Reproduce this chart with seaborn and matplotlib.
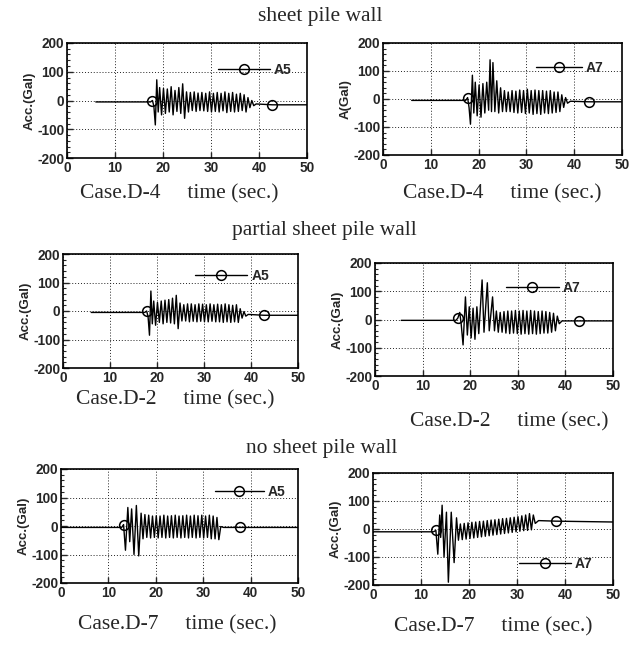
import matplotlib
matplotlib.use("Agg")
import matplotlib.pyplot as plt
import seaborn as sns
from matplotlib.lines import Line2D
from matplotlib.ticker import MultipleLocator

# ---- data (turning points of each record) ----
# sheet pile wall, Case.D-4, A5
t_d4_a5 = [6.0, 17.4, 17.8, 18.1, 18.4, 18.7, 19.0, 19.3, 19.7, 20.1, 20.5, 20.9, 21.3, 21.7, 22.1,
           22.5, 22.9, 23.3, 23.7, 24.1, 24.5, 24.9, 25.3, 25.7, 26.1, 26.5, 26.9, 27.3, 27.7, 28.1,
           28.5, 28.9, 29.3, 29.7, 30.1, 30.5, 30.9, 31.3, 31.7, 32.1, 32.5, 32.9, 33.3, 33.7, 34.1,
           34.5, 34.9, 35.3, 35.7, 36.1, 36.5, 36.9, 37.3, 37.7, 38.1, 38.5, 38.9, 39.4, 42.8, 50.0]
a_d4_a5 = [-5, -5, 0, -20, -85, 72, -40, 45, -50, 42, -45, 40, -40, 48, -50,
           35, -38, 45, -45, 58, -62, 30, -40, 28, -35, 30, -38, 26, -35, 28,
           -36, 25, -38, 30, -40, 25, -38, 28, -40, 25, -36, 30, -42, 25, -38,
           28, -40, 22, -38, 25, -35, 20, -40, 10, -25, 0, -18, -12, -15, -15]
mark_d4_a5 = [17.8, 42.8]

# sheet pile wall, Case.D-4, A7
t_d4_a7 = [6.0, 17.3, 17.7, 18.0, 18.3, 18.7, 19.0, 19.3, 19.7, 20.1, 20.5, 20.9, 21.3, 21.7, 22.1,
           22.4, 22.7, 23.0, 23.4, 23.8, 24.2, 24.6, 25.0, 25.4, 25.8, 26.2, 26.6, 27.0, 27.4, 27.8,
           28.2, 28.6, 29.0, 29.4, 29.8, 30.2, 30.6, 31.0, 31.4, 31.8, 32.2, 32.6, 33.0, 33.4, 33.8,
           34.2, 34.6, 35.0, 35.4, 35.8, 36.2, 36.6, 37.0, 37.4, 37.8, 38.2, 38.6, 39.2, 43.0, 50.0]
a_d4_a7 = [-5, -5, 5, -30, -90, 85, -50, 60, -60, 50, -65, 55, -50, 60, -40,
           140, -45, 130, -45, 65, -50, 40, -45, 30, -45, 25, -45, 30, -48, 28,
           -50, 32, -48, 30, -52, 35, -50, 30, -55, 32, -52, 30, -55, 30, -50,
           28, -52, 30, -50, 25, -48, 25, -45, 15, -30, 5, -15, -8, -10, -10]
mark_d4_a7 = [17.7, 43.0]

# partial sheet pile wall, Case.D-2, A5
t_d2_a5 = [6.0, 17.4, 17.8, 18.1, 18.4, 18.7, 19.0, 19.3, 19.7, 20.1, 20.5, 20.9, 21.3, 21.7, 22.1,
           22.5, 22.9, 23.3, 23.7, 24.1, 24.5, 24.9, 25.3, 25.7, 26.1, 26.5, 26.9, 27.3, 27.7, 28.1,
           28.5, 28.9, 29.3, 29.7, 30.1, 30.5, 30.9, 31.3, 31.7, 32.1, 32.5, 32.9, 33.3, 33.7, 34.1,
           34.5, 34.9, 35.3, 35.7, 36.1, 36.5, 36.9, 37.3, 37.7, 38.1, 38.5, 38.9, 39.4, 42.8, 50.0]
a_d2_a5 = [-5, -5, 0, -20, -85, 70, -45, 35, -50, 30, -40, 35, -45, 38, -40,
           40, -42, 45, -45, 55, -62, 28, -35, 22, -35, 25, -38, 25, -36, 22,
           -38, 25, -36, 24, -38, 22, -38, 25, -36, 22, -38, 24, -38, 22, -40,
           25, -38, 22, -40, 20, -38, 22, -40, 8, -25, -2, -18, -12, -15, -15]
mark_d2_a5 = [17.8, 42.8]

# partial sheet pile wall, Case.D-2, A7
t_d2_a7 = [5.5, 17.0, 17.4, 17.8, 18.1, 18.5, 19.0, 19.4, 19.8, 20.2, 20.6, 21.0, 21.4, 21.8, 22.5,
           22.9, 23.6, 24.0, 24.7, 25.1, 25.5, 25.9, 26.3, 26.7, 27.1, 27.5, 27.9, 28.3, 28.7, 29.1,
           29.5, 29.9, 30.3, 30.7, 31.1, 31.5, 31.9, 32.3, 32.7, 33.1, 33.5, 33.9, 34.3, 34.7, 35.1,
           35.5, 35.9, 36.3, 36.7, 37.1, 37.5, 37.9, 38.3, 38.7, 39.3, 42.8, 50.0]
a_d2_a7 = [-3, -3, 5, 25, -15, -90, 80, -55, 45, -65, 40, -70, 45, -50, 140,
           -45, 130, -40, 80, -40, 30, -45, 25, -45, 28, -48, 30, -50, 30, -48,
           32, -50, 30, -52, 32, -50, 30, -52, 32, -50, 30, -52, 28, -50, 30,
           -48, 28, -48, 25, -45, 22, -40, 12, -15, -5, -5, -5]
mark_d2_a7 = [17.4, 42.8]

# no sheet pile wall, Case.D-7, A5
t_d7_a5 = [0.0, 12.8, 13.2, 13.6, 14.1, 14.5, 14.9, 15.4, 15.9, 16.4, 16.9, 17.3,
           17.7, 18.1, 18.5, 18.9, 19.3, 19.7, 20.1, 20.5, 20.9, 21.3, 21.7, 22.1, 22.5, 22.9,
           23.3, 23.7, 24.1, 24.5, 24.9, 25.3, 25.7, 26.1, 26.5, 26.9, 27.3, 27.7, 28.1, 28.5,
           28.9, 29.3, 29.7, 30.1, 30.5, 30.9, 31.3, 31.7, 32.1, 32.5, 32.9, 33.3,
           33.7, 34.3, 37.8, 50.0]
a_d7_a5 = [-5, -5, 5, -85, 65, -55, 60, -100, 72, -105, 45, -45,
           40, -40, 38, -42, 35, -40, 36, -42, 35, -40, 38, -42, 35, -40,
           36, -42, 38, -40, 35, -42, 36, -40, 38, -42, 35, -40, 38, -42,
           36, -40, 38, -42, 35, -40, 38, -45, 35, -45, 30, -48,
           -2, -5, -5, -5]
mark_d7_a5 = [13.2, 37.8]

# no sheet pile wall, Case.D-7, A7
t_d7_a7 = [0.0, 12.6, 13.1, 13.5, 13.9, 14.1, 14.4, 14.8, 15.3, 15.7, 16.3, 16.9, 17.4, 17.8,
           18.2, 18.6, 19.0, 19.4, 19.8, 20.2, 20.6, 21.0, 21.4, 21.8, 22.2, 22.6, 23.0,
           23.4, 23.8, 24.2, 24.6, 25.0, 25.4, 25.8, 26.2, 26.6, 27.0, 27.4, 27.8, 28.2,
           28.6, 29.0, 29.4, 29.8, 30.2, 30.6, 31.0, 31.4, 31.8, 32.2, 32.6, 33.0, 33.4,
           33.8, 34.5, 38.1, 50.0]
a_d7_a7 = [-10, -10, -5, -90, 50, -30, 85, -100, 60, -190, 60, -120, 40, -40,
           18, -38, 20, -36, 22, -34, 24, -32, 25, -30, 27, -28, 28,
           -26, 30, -24, 32, -22, 33, -20, 35, -18, 37, -16, 38, -14,
           40, -12, 42, -10, 44, -8, 47, -6, 50, -5, 55, -3, 50,
           20, 30, 28, 25]
mark_d7_a7 = [13.1, 38.1]

gauges = ["A5", "A7", "A5", "A7", "A5", "A7"]
cases = ["Case.D-4", "Case.D-4", "Case.D-2", "Case.D-2", "Case.D-7", "Case.D-7"]
ylabels = ["Acc.(Gal)", "A(Gal)", "Acc.(Gal)", "Acc.(Gal)", "Acc.(Gal)", "Acc.(Gal)"]
row_titles = ["sheet pile wall", "partial sheet pile wall", "no sheet pile wall"]
xticks = [0, 10, 20, 30, 40, 50]
yticks = [-200, -100, 0, 100, 200]

series = [(t_d4_a5, a_d4_a5, mark_d4_a5), (t_d4_a7, a_d4_a7, mark_d4_a7),
          (t_d2_a5, a_d2_a5, mark_d2_a5), (t_d2_a7, a_d2_a7, mark_d2_a7),
          (t_d7_a5, a_d7_a5, mark_d7_a5), (t_d7_a7, a_d7_a7, mark_d7_a7)]

# ---- layout (pixel boxes of the scanned panels: left, top, right, bottom) ----
W, H = 629, 645
boxes = [(67, 43, 307, 158), (383, 43, 622, 155),
         (63, 254, 298, 368), (375, 263, 613, 376),
         (61, 469, 298, 583), (373, 473, 613, 585)]
# legend: handle start (axes x), centre (axes y), handle length (font units)
leg_pos = [(0.63, 0.765, 3.7), (0.64, 0.78, 3.3), (0.56, 0.81, 3.8),
           (0.55, 0.78, 3.8), (0.65, 0.80, 3.5), (0.61, 0.19, 3.7)]
xlabel_pad = [7, 9, 4, 14, 11, 11]
xlabel_x = [0.467, 0.5, 0.479, 0.563, 0.49, 0.5]
title_y = [16, 231, 448]
title_x = [320, 324, 322]

sns.set_style("ticks")
plt.rcParams["font.family"] = ["Liberation Sans", "DejaVu Sans"]
plt.rcParams["axes.unicode_minus"] = False

fig = plt.figure(figsize=(W / 100, H / 100), dpi=100)

for i, (t, a, mark) in enumerate(series):
    l, tp, r, b = boxes[i]
    ax = fig.add_axes([l / W, 1 - b / H, (r - l) / W, (b - tp) / H])
    idx = [t.index(m) for m in mark]
    sns.lineplot(x=t, y=a, ax=ax, color="black", linewidth=1.0, sort=False,
                 estimator=None, marker="o", markevery=idx, markersize=7,
                 markerfacecolor="none", markeredgecolor="black",
                 markeredgewidth=1.1)
    ax.set_xlim(0, 50)
    ax.set_ylim(-200, 200)
    ax.set_xticks(xticks)
    ax.set_yticks(yticks)
    ax.yaxis.set_minor_locator(MultipleLocator(20))
    ax.grid(True, which="major", color="#222222", linestyle=(0, (1, 2)), linewidth=0.7)
    ax.tick_params(which="major", direction="in", length=4, width=1, pad=2,
                   labelsize=9.8)
    ax.tick_params(axis="y", which="minor", direction="in", length=2.5, width=0.8)
    for lab in ax.get_xticklabels() + ax.get_yticklabels():
        lab.set_fontweight("bold")
    for sp in ax.spines.values():
        sp.set_linewidth(1.2)
        sp.set_color("black")
    ax.set_ylabel(ylabels[i], fontsize=9.5, fontweight="bold", labelpad=1)
    ax.set_xlabel(cases[i] + "     time (sec.)", fontsize=15.5,
                  family=["Liberation Serif", "DejaVu Serif"], labelpad=xlabel_pad[i])
    ax.xaxis.label.set_x(xlabel_x[i])

    hx, hy, hl = leg_pos[i]
    handle = Line2D([], [], color="black", linewidth=1.0, marker="o", markersize=7,
                    markerfacecolor="none", markeredgecolor="black", markeredgewidth=1.1)
    ax.legend([handle], [gauges[i]], loc="center left", bbox_to_anchor=(hx, hy),
              frameon=False, numpoints=1, handlelength=hl, handletextpad=0.3,
              borderpad=0, borderaxespad=0,
              prop={"size": 10, "weight": "bold"})

for k, txt in enumerate(row_titles):
    fig.text(title_x[k] / W, 1 - title_y[k] / H, txt, ha="center", va="center",
             fontsize=15.5, family=["Liberation Serif", "DejaVu Serif"])

fig.savefig("out.png", dpi=100)
